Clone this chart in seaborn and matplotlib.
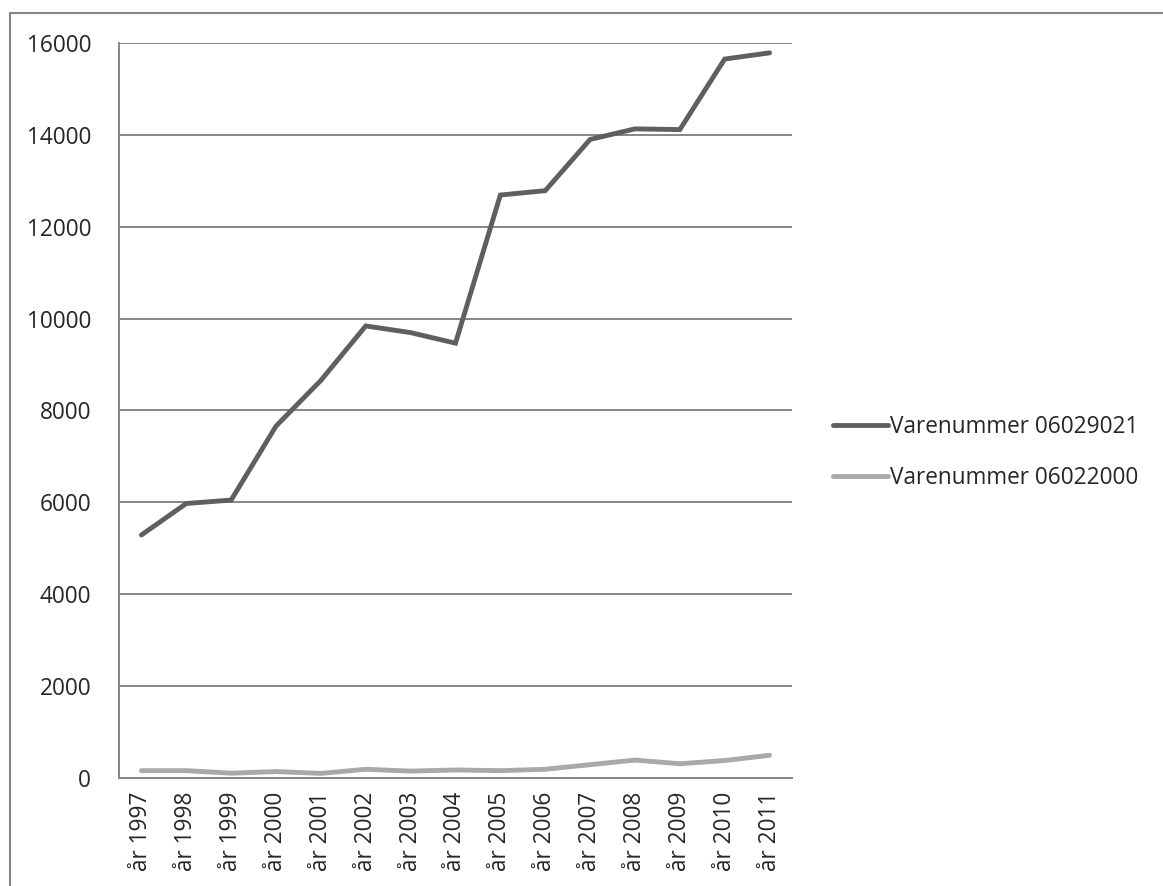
import pandas as pd
import seaborn as sns
import matplotlib.pyplot as plt
from matplotlib.lines import Line2D

years = ['år 1997', 'år 1998', 'år 1999', 'år 2000', 'år 2001', 'år 2002', 'år 2003', 'år 2004',
         'år 2005', 'år 2006', 'år 2007', 'år 2008', 'år 2009', 'år 2010', 'år 2011']
series_names = ['Varenummer 06029021', 'Varenummer 06022000']
vals_06029021 = [5290, 5975, 6050, 7660, 8655, 9840, 9695, 9465, 12690, 12785, 13900, 14130, 14115, 15650, 15785]
vals_06022000 = [160, 160, 105, 140, 100, 190, 150, 175, 160, 190, 290, 390, 310, 380, 495]
y_ticks = [0, 2000, 4000, 6000, 8000, 10000, 12000, 14000, 16000]

df = pd.DataFrame({
    'year': years * 2,
    'value': vals_06029021 + vals_06022000,
    'series': [series_names[0]] * len(years) + [series_names[1]] * len(years),
})

sns.set_style('white')
plt.rcParams['font.family'] = ['Open Sans', 'DejaVu Sans']

fig = plt.figure(figsize=(11.63, 8.86), dpi=100)
ax = fig.add_axes([0.1023, 0.1219, 0.5787, 0.8296])

grid_col = '#868686'
fs = 16.3
sns.lineplot(data=df, x='year', y='value', hue='series', sort=False,
             palette=['#5f5f5f', '#a9a9a9'], linewidth=3.5, ax=ax,
             solid_capstyle='round', solid_joinstyle='miter')

ax.set_xlim(-0.5, len(years) - 0.5)
ax.set_ylim(0, 16000)
ax.set_yticks(y_ticks)
ax.set_yticklabels([str(t) for t in y_ticks], fontsize=fs)
ax.set_xticks(range(len(years)))
ax.set_xticklabels(years, rotation=90, fontsize=fs)
ax.set_xticks([i - 0.5 for i in range(len(years) + 1)], minor=True)
ax.tick_params(axis='x', which='major', length=0, pad=10)
ax.tick_params(axis='x', which='minor', length=7, width=1.3, color=grid_col, direction='out')
ax.tick_params(axis='y', length=8, width=1.3, color=grid_col, direction='out', pad=12)
ax.set_xlabel('')
ax.set_ylabel('')

ax.grid(True, axis='y', color=grid_col, linewidth=1.4)
ax.set_axisbelow(True)
for side in ['top', 'right']:
    ax.spines[side].set_visible(False)
for side in ['left', 'bottom']:
    ax.spines[side].set_color(grid_col)
    ax.spines[side].set_linewidth(1.4)

ax.legend(title=None, frameon=False, fontsize=fs, loc='center left',
          bbox_to_anchor=(1.03, 0.443), handlelength=2.45, handletextpad=0.1,
          labelspacing=1.2)

# outer chart border (top and left only, rest is cut off)
fig.add_artist(Line2D([0.0086, 1.0], [0.9853, 0.9853], color=grid_col, linewidth=1.5))
fig.add_artist(Line2D([0.0086, 0.0086], [0.0, 0.9853], color=grid_col, linewidth=1.5))

fig.savefig('out.png', dpi=100)
